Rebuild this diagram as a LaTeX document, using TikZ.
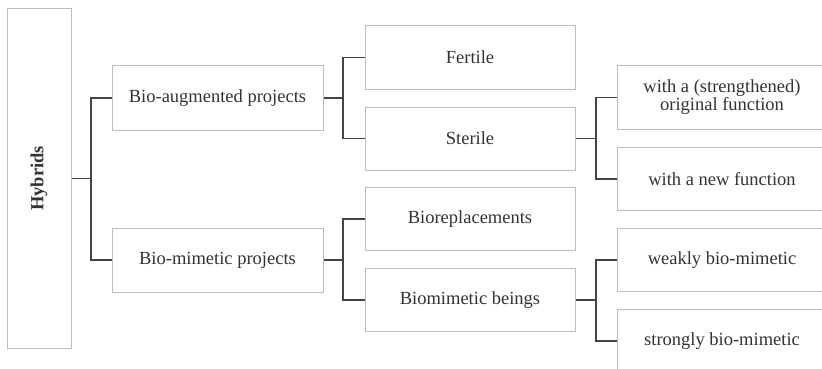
\documentclass[tikz,border=0pt]{standalone}
\usepackage{fontspec}
\setmainfont{Liberation Serif}
\begin{document}
\begin{tikzpicture}[x=1pt,y=-1pt,
  box/.style={draw=boxgray,line width=1pt,inner sep=0pt,minimum width=210pt,minimum height=63pt,
    text=txtgray,font=\fontsize{18.5}{19}\selectfont,align=center},
  conn/.style={draw=conngray,line width=1.6pt}]
\definecolor{boxgray}{HTML}{BDBDBD}
\definecolor{txtgray}{HTML}{333333}
\definecolor{conngray}{HTML}{444444}
\useasboundingbox (0,0) rectangle (822,369);
\clip (0,0) rectangle (822,369);
\fill[white] (0,0) rectangle (822,369);
\node[box,minimum width=64pt,minimum height=339pt] (hyb) at (39,178.5) {};
\node[rotate=90,text=txtgray,font=\fontsize{18.5}{19}\selectfont\bfseries] (hybt) at (hyb.center) {Hybrids};
\node[box,minimum width=211pt,minimum height=64pt] (aug) at (217.5,98) {Bio-augmented projects};
\node[box,minimum width=211pt,minimum height=64pt] (mim) at (217.5,260) {Bio-mimetic projects};
\node[box] (fert) at (470,57.5) {Fertile};
\node[box] (ster) at (470,138.5) {Sterile};
\node[box] (brep) at (470,219) {Bioreplacements};
\node[box] (bbe) at (470,300) {Biomimetic beings};
\node[box,font=\fontsize{18.5}{17}\selectfont] (orig) at (722,97.5) {with a (strengthened)\\original function};
\node[box] (newf) at (722,179) {with a new function};
\node[box] (weak) at (722,260) {weakly bio-mimetic};
\node[box] (strong) at (722,341) {strongly bio-mimetic};
\coordinate (j1) at (91,178.5);
\coordinate (j2) at (343,98);
\coordinate (j3) at (343,260);
\coordinate (j4) at (596,138.5);
\coordinate (j5) at (596,300);
\draw[conn] (hyb.east) -- (j1);
\draw[conn] (aug.west) -| (j1) |- (mim.west);
\draw[conn] (aug.east) -- (j2);
\draw[conn] (fert.west) -| (j2) |- (ster.west);
\draw[conn] (mim.east) -- (j3);
\draw[conn] (brep.west) -| (j3) |- (bbe.west);
\draw[conn] (ster.east) -- (j4);
\draw[conn] (orig.west) -| (j4) |- (newf.west);
\draw[conn] (bbe.east) -- (j5);
\draw[conn] (weak.west) -| (j5) |- (strong.west);
\end{tikzpicture}
\end{document}
